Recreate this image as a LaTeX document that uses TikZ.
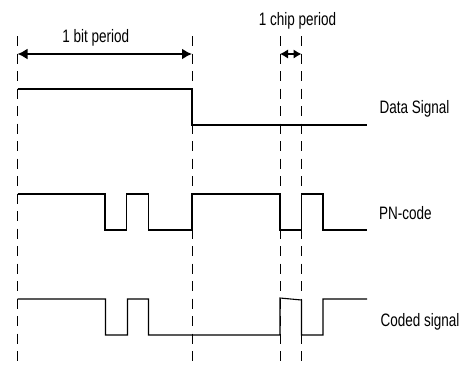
\documentclass[tikz,border=0pt]{standalone}
\usepackage{fontspec}
\setmainfont{Liberation Sans}[FakeStretch=0.75]
\usetikzlibrary{arrows.meta}
\begin{document}
\begin{tikzpicture}[x=1pt,y=-1pt,
  guide/.style={line width=0.8pt, dash pattern=on 10pt off 7.5pt},
  sig/.style={line width=1.1pt, line join=miter},
  dimarrow/.style={line width=1.8pt, {Latex[length=10pt,width=11pt]}-{Latex[length=10pt,width=11pt]}},
  chiparrow/.style={line width=1.8pt, {Latex[length=8pt,width=9.5pt]}-{Latex[length=8pt,width=9.5pt]}},
  lab/.style={font=\fontsize{18}{20}\selectfont, inner sep=0pt}]
\useasboundingbox (0,0) rectangle (462,367);
% guide lines
\coordinate (g1t) at (17.5,36); \coordinate (g1b) at (17.5,365);
\coordinate (g2t) at (192,36);  \coordinate (g2b) at (192,365);
\coordinate (g3t) at (280,36);  \coordinate (g3b) at (280,365);
\coordinate (g4t) at (301.5,36);\coordinate (g4b) at (301.5,365);
\draw[guide] (g1t) -- (g1b);
\draw[guide] (g2t) -- (g2b);
\draw[guide] (g3t) -- (g3b);
\draw[guide] (g4t) -- (g4b);
% period arrows
\coordinate (a1) at (17.5,54); \coordinate (a2) at (192,54);
\coordinate (c1) at (280,54); \coordinate (c2) at (301.5,54);
\draw[dimarrow] (a1) -- (a2);
\draw[chiparrow] (c1) -- (c2);
\node[lab, anchor=base] (bitlab) at (95.7,42.7) {1 bit period};
\node[lab, anchor=base] (chiplab) at (297.5,25.7) {1 chip period};
% data signal
\draw[sig] (17.5,89) -- (192,89) -- (192,125) -- (367,125);
\node[lab, anchor=base west] (datalab) at (379.3,113.3) {Data Signal};
% PN code
\draw[sig] (17.5,194) -- (105,194) -- (105,230) -- (126.5,230) -- (126.5,194)
  -- (148.5,194) -- (148.5,230) -- (192,230) -- (192,194) -- (280,194)
  -- (280,230) -- (301.5,230) -- (301.5,194) -- (323,194) -- (323,230) -- (367,230);
\node[lab, anchor=base west] (pnlab) at (379,219) {PN-code};
% coded signal
\draw[sig] (17.5,299) -- (105.5,299) -- (105.5,335) -- (127.5,335) -- (127.5,299)
  -- (148.5,299) -- (148.5,335) -- (280,335) -- (280,298) -- (301.5,300)
  -- (301.5,335) -- (323,335) -- (323,299) -- (367,299);
\node[lab, anchor=base west] (codedlab) at (380.5,326) {Coded signal};
\end{tikzpicture}
\end{document}
